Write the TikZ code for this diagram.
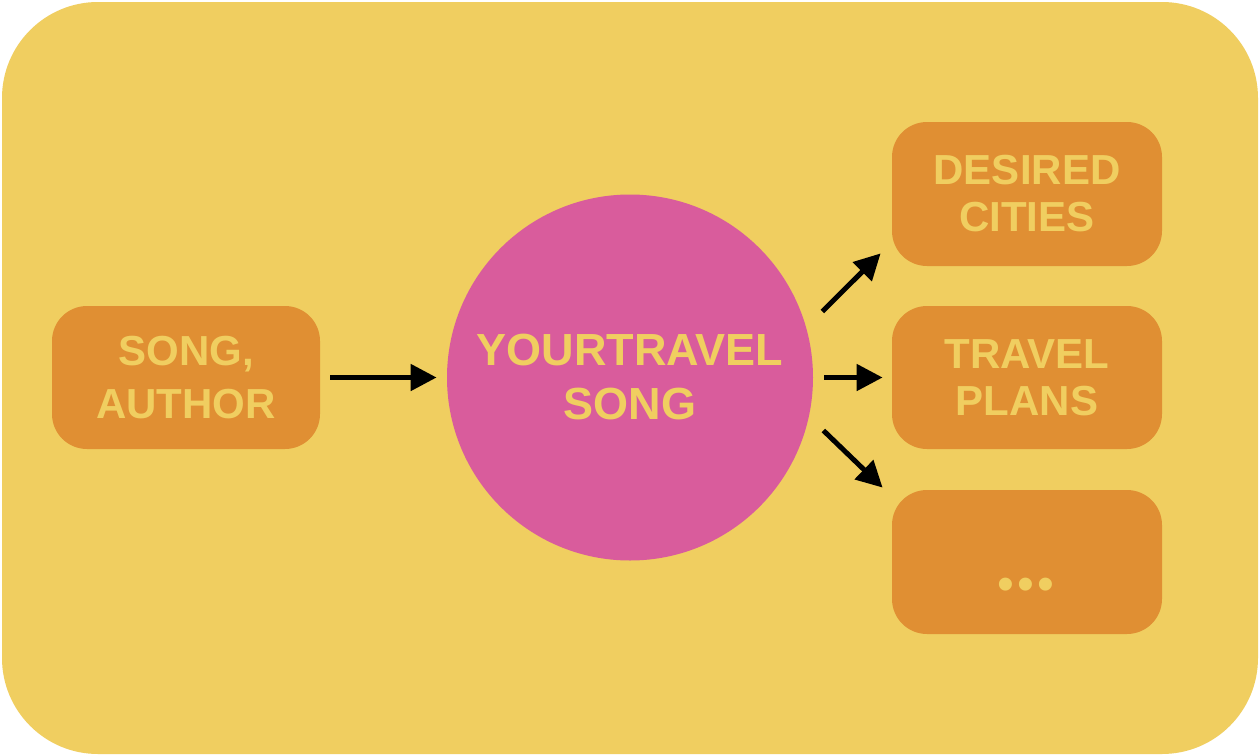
\documentclass[tikz,border=0pt]{standalone}
\usepackage{fontspec}
\setmainfont{Liberation Sans}
\usetikzlibrary{arrows.meta,calc}
\definecolor{bgyellow}{HTML}{F0CE60}
\definecolor{boxorange}{HTML}{E08F33}
\definecolor{hubpink}{HTML}{D95C9C}
\tikzset{
  lbl/.style={text=bgyellow, font=\bfseries\fontsize{21}{23.5}\selectfont, align=center},
  obox/.style={lbl, fill=boxorange, rounded corners=17.5pt, minimum width=135pt, minimum height=72pt, inner sep=0pt},
  hub/.style={lbl, font=\bfseries\fontsize{22.5}{27}\selectfont, circle, fill=hubpink, minimum size=183pt, inner sep=0pt},
  arr/.style={line width=2.5pt, -{Triangle[length=13pt,width=13pt]}}
}
\begin{document}
\begin{tikzpicture}[x=0.5pt,y=-0.5pt]
\useasboundingbox (0,0) rectangle (1260,756);
\fill[white] (0,0) rectangle (1260,756);
\fill[bgyellow, rounded corners=48pt] (2,2) rectangle (1258,754);
\node[obox, font=\bfseries\fontsize{21}{26.5}\selectfont, minimum width=134pt, minimum height=71.5pt] (src) at (186,377.5) {SONG,\\AUTHOR};
\node[hub] (c) at (630,377.5) {YOURTRAVEL\\SONG};
\node[obox] (b1) at (1027,194) {DESIRED\\CITIES};
\node[obox, minimum height=71.5pt] (b2) at (1027,377.5) {TRAVEL\\PLANS};
\node[obox] (b3) at (1027,562) {};
\node[text=bgyellow, font=\fontsize{24}{27}\selectfont, inner sep=0pt] (dots) at (1026,589) {•\kern1.6pt•\kern1.6pt•};
\draw[arr] ($(src.east)+(10,0)$) -- ($(c.west)+(-10,0)$);
\draw[arr] ($(c.east)+(9,-66)$) -- ($(b1.south west)+(-11,-13)$);
\draw[arr] ($(c.east)+(11,0)$) -- ($(b2.west)+(-9,0)$);
\draw[arr] ($(c.east)+(10,53)$) -- ($(b3.north west)+(-9,-2)$);
\end{tikzpicture}
\end{document}
